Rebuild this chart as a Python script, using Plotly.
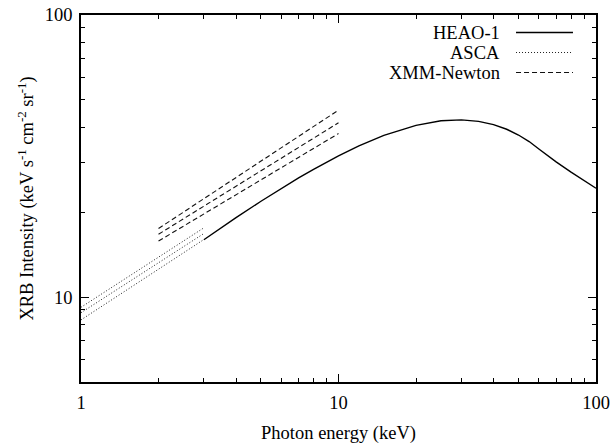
import plotly.graph_objects as go

# HEAO-1 spectrum (keV s^-1 cm^-2 sr^-1)
heao_e = [3, 3.5, 4, 5, 6, 7, 8, 9, 10, 12, 15, 20, 25, 30, 35, 40, 45, 50, 55, 60, 65, 70, 80, 90, 100]
heao_i = [15.97, 17.61, 19.12, 21.87, 24.30, 26.45, 28.38, 30.12, 31.68, 34.35, 37.41, 40.64,
          42.16, 42.50, 41.98, 40.87, 39.35, 37.55, 35.60, 33.51, 31.67, 30.14, 27.72, 25.85, 24.32]

# ASCA power-law bands
asca_e = [1, 3]
asca_hi = [9.2, 17.6]
asca_mid = [8.8, 16.8]
asca_lo = [8.3, 16.0]

# XMM-Newton power-law bands
xmm_e = [2, 10]
xmm_hi = [17.5, 46.0]
xmm_mid = [16.7, 41.5]
xmm_lo = [15.8, 38.0]

x_ticks = [1, 10, 100]
y_ticks = [10, 100]
x_minor = [2, 3, 4, 5, 6, 7, 8, 9, 20, 30, 40, 50, 60, 70, 80, 90]
y_minor = [6, 7, 8, 9, 20, 30, 40, 50, 60, 70, 80, 90]

legend_names = ["HEAO-1", "ASCA", "XMM-Newton"]

FONT = "Liberation Serif, Times New Roman, serif"
FS = 18.5

SOLID = dict(color="black", width=1.4)
DOT = dict(color="#222222", width=1.0, dash="1px,2px")
DASH = dict(color="#111111", width=1.1, dash="5px,3px")
legend_styles = [SOLID, DOT, DASH]

fig = go.Figure()
fig.add_trace(go.Scatter(x=heao_e, y=heao_i, mode="lines", name="HEAO-1",
                         line=SOLID, showlegend=False))
for ys in (asca_hi, asca_mid, asca_lo):
    fig.add_trace(go.Scatter(x=asca_e, y=ys, mode="lines", name="ASCA",
                             line=DOT, showlegend=False))
for ys in (xmm_hi, xmm_mid, xmm_lo):
    fig.add_trace(go.Scatter(x=xmm_e, y=ys, mode="lines", name="XMM-Newton",
                             line=DASH, showlegend=False))

# custom legend (text left of sample line, gnuplot style)
rows_y = [0.9523, 0.8978, 0.8433]
for name, st, yy in zip(legend_names, legend_styles, rows_y):
    fig.add_annotation(x=0.8175, y=yy, xref="paper", yref="paper", text=name,
                       showarrow=False, xanchor="right", yanchor="middle",
                       font=dict(family=FONT, size=FS, color="black"))
    fig.add_shape(type="line", xref="paper", yref="paper", x0=0.8447, x1=0.9553, y0=yy, y1=yy,
                  line=st)

axis_common = dict(
    showline=True, linecolor="black", linewidth=1.5, mirror="allticks",
    ticks="inside", ticklen=8, tickwidth=1.2, tickcolor="black",
    showgrid=False, zeroline=False, automargin=False,
    tickfont=dict(family=FONT, size=FS, color="black"),
)

fig.update_xaxes(type="log", range=[0, 2], tickmode="array", tickvals=x_ticks,
                 ticktext=[str(v) for v in x_ticks], ticklabelstandoff=3,
                 minor=dict(tickmode="array", tickvals=x_minor, ticks="inside", ticklen=4,
                            tickwidth=1.0, tickcolor="black", showgrid=False),
                 title=dict(text="Photon energy (keV)", font=dict(family=FONT, size=FS, color="black"),
                            standoff=14),
                 **axis_common)
fig.update_yaxes(type="log", range=[0.69897, 2], tickmode="array", tickvals=y_ticks,
                 ticktext=[str(v) for v in y_ticks], ticklabelstandoff=3,
                 minor=dict(tickmode="array", tickvals=y_minor, ticks="inside", ticklen=4,
                            tickwidth=1.0, tickcolor="black", showgrid=False),
                 title=dict(text="XRB Intensity (keV s<sup>-1</sup> cm<sup>-2</sup> sr<sup>-1</sup>)",
                            font=dict(family=FONT, size=FS, color="black"), standoff=6),
                 **axis_common)

fig.update_layout(width=615, height=445, autosize=False,
                  margin=dict(l=81, r=19, t=15, b=63),
                  paper_bgcolor="white", plot_bgcolor="white",
                  font=dict(family=FONT, size=FS, color="black"))

fig.write_html("out.html")
